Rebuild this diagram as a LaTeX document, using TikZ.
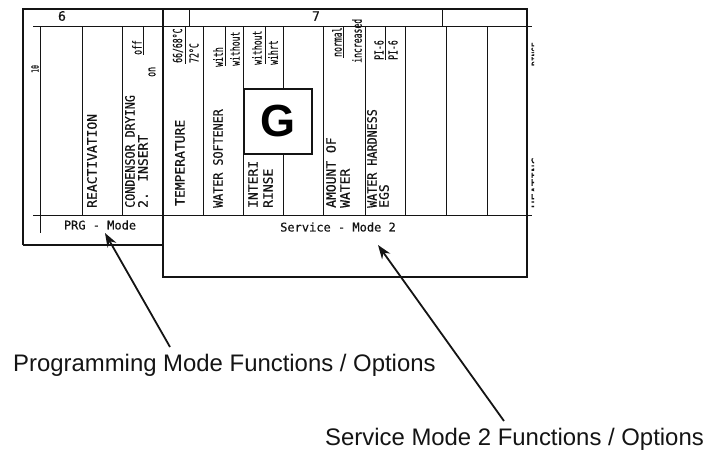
\documentclass[tikz,border=0pt]{standalone}
\usepackage{fontspec}
\usepackage{graphicx}
\setmainfont{Liberation Sans}
\newfontfamily\plotfont[FakeBold=0.5]{DejaVu Sans Mono}
\usetikzlibrary{arrows.meta}
\definecolor{encre}{HTML}{141414}
\newcommand{\etroit}[1]{\scalebox{0.65}[1]{#1}}
\newcommand{\serre}[1]{\scalebox{0.9}[1]{#1}}

\tikzset{
  cadre/.style={encre, line width=2.4pt},
  trait/.style={encre, line width=0.9pt},
  colonne/.style={rotate=90, anchor=west, inner sep=0pt, text=encre, font=\fontsize{13}{13}\plotfont},
  option/.style={rotate=90, anchor=west, inner sep=0pt, text=encre, font=\fontsize{12.5}{12.5}\plotfont},
  plaque/.style={inner sep=0pt, text=encre, font=\fontsize{12}{12}\plotfont},
  fleche/.style={encre, line width=1.8pt, -{Stealth[length=14pt, width=10pt]}},
  legende/.style={anchor=west, inner sep=0pt, text=encre, font=\fontsize{23.9}{24}\selectfont},
}

\begin{document}
\begin{tikzpicture}[x=1pt, y=-1pt]
    \useasboundingbox (0,0) rectangle (704,451);
    % grille du panneau
    \draw[trait] (33,26) -- (532,26);
    \draw[trait] (33,215) -- (532,215);
    \draw[trait] (40,26) -- (40,233);
    \foreach \x in {82,122,203,243,283,323,365,405,446,487}
      \draw[trait] (\x,26) -- (\x,215);
    \foreach \x in {189,442}
      \draw[trait] (\x,9) -- (\x,26);
    \foreach \x/\y in {143/55, 185/64, 225/66, 265/64, 343/58, 385/60}
      \draw[trait] (\x,26) -- (\x,\y);
    % cadres PRG et Service
    \draw[cadre] (23,245) -- (23,9) -- (527,9) -- (527,277) -- (163,277) -- (163,9);
    \draw[cadre] (23,245) -- (163,245);
    \node[plaque, font=\fontsize{13}{13}\plotfont] (six) at (62,16) {6};
    \node[plaque, font=\fontsize{13}{13}\plotfont] (sept) at (316,16) {7};
    \node[option, font=\fontsize{10}{10}\plotfont] (dix) at (35,73) {\etroit{10}};
    % libelles des colonnes
    \node[colonne] (reactivation) at (92,208) {REACTIVATION};
    \node[colonne] (sechage) at (130,208) {\serre{CONDENSOR DRYING}};
    \node[colonne] (insert) at (143,208) {2. INSERT};
    \node[colonne] (temperature) at (180,206) {TEMPERATURE};
    \node[colonne] (adoucisseur) at (218,208) {\serre{WATER SOFTENER}};
    \node[colonne] (interi) at (253,208) {INTERI};
    \node[colonne] (rinse) at (268,208) {RINSE};
    \node[colonne] (quantite) at (331,208) {AMOUNT OF};
    \node[colonne] (eau) at (345,208) {WATER};
    \node[colonne] (durete) at (372,208) {\serre{WATER HARDNESS}};
    \node[colonne] (egs) at (384,208) {EGS};
    % options
    \node[option] (off) at (137,55) {\etroit{off}};
    \node[option] (on) at (152,77) {\etroit{on}};
    \node[option] (basse) at (178,63) {\etroit{66/68°C}};
    \node[option] (haute) at (194,63) {\etroit{72°C}};
    \node[option] (avec) at (218,67) {\etroit{with}};
    \node[option] (sans) at (235,66) {\etroit{without}};
    \node[option] (sansb) at (257,65) {\etroit{without}};
    \node[option] (sansc) at (273,65) {\etroit{wihrt}};
    \node[option] (normal) at (337,57) {\etroit{normal}};
    \node[option] (augmente) at (357,63) {\etroit{increased}};
    \node[option] (pia) at (379,60) {\etroit{PI-6}};
    \node[option] (pib) at (393,60) {\etroit{PI-6}};
    \begin{scope}
      \clip (528,26) rectangle (534,215);
      \node[option, font=\fontsize{12}{12}\plotfont] (bout) at (536,66) {\etroit{RINSE}};
      \node[option, font=\fontsize{12}{12}\plotfont] (chauffe) at (536,208) {HEATING};
    \end{scope}
    \node[draw=encre, line width=1.6pt, fill=white, minimum width=68pt, minimum height=65pt,
      font=\fontsize{45}{45}\selectfont\bfseries] (lettre) at (278,121.5) {G};
    \node[plaque] (prg) at (100,225) {PRG - Mode};
    \node[plaque] (service) at (338,227) {Service - Mode 2};
    % legendes et fleches
    \node[legende] (legprg) at (13,365) {Programming Mode Functions / Options};
    \node[legende] (legservice) at (325,439) {Service Mode 2 Functions / Options};
    \coordinate (piedprg) at (170,347);
    \coordinate (pointeprg) at (105,233);
    \coordinate (piedservice) at (504,421);
    \coordinate (pointeservice) at (378,245);
    \draw[fleche] (piedprg) -- (pointeprg);
    \draw[fleche] (piedservice) -- (pointeservice);
\end{tikzpicture}
\end{document}
